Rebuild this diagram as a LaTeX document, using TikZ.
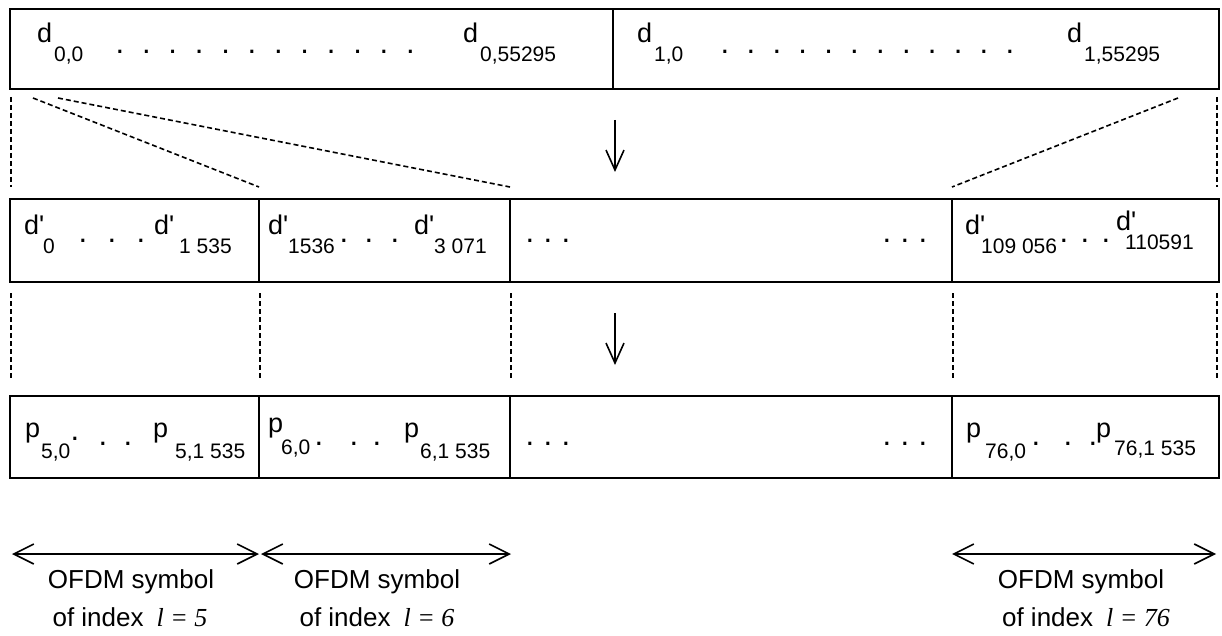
\documentclass[tikz,border=0pt]{standalone}
\usepackage{fontspec}
\setmainfont{Liberation Sans}
\newfontfamily\tnr{Liberation Serif}
\usetikzlibrary{arrows.meta,positioning}

\newcommand{\dq}{d\textquotesingle}

\begin{document}
\begin{tikzpicture}[x=1pt, y=-1pt,
    cell/.style={draw, line width=1.6pt, inner sep=0pt, outer sep=0pt, anchor=north west},
    mn/.style={anchor=base west, inner sep=0pt, font=\fontsize{27}{27}\selectfont},
    sb/.style={anchor=base west, inner sep=0pt, font=\fontsize{21}{21}\selectfont},
    dt/.style={anchor=base, inner sep=0pt, font=\fontsize{31}{31}\selectfont},
    capt/.style={anchor=base, inner sep=0pt, font=\fontsize{26}{26}\selectfont},
    guide/.style={line width=1.6pt, dash pattern=on 5pt off 3pt},
    dn/.style={-{Straight Barb[length=20pt, width=18pt]}, line width=1.6pt},
    span/.style={{Straight Barb[length=20pt, width=20pt]}-{Straight Barb[length=20pt, width=20pt]},
                 line width=1.6pt}
  ]
  \useasboundingbox (0,0) rectangle (1222,636);

  % the three rows of cells
  \node[cell, minimum width=603pt, minimum height=80pt] (r1a) at (10,9) {};
  \node[cell, minimum width=606pt, minimum height=80pt, right=0pt of r1a] (r1b) {};

  \node[cell, minimum width=249pt, minimum height=83pt] (r2a) at (10,199) {};
  \node[cell, minimum width=251pt, minimum height=83pt, right=0pt of r2a] (r2b) {};
  \node[cell, minimum width=442pt, minimum height=83pt, right=0pt of r2b] (r2c) {};
  \node[cell, minimum width=267pt, minimum height=83pt, right=0pt of r2c] (r2d) {};

  \node[cell, minimum width=249pt, minimum height=82pt] (r3a) at (10,396) {};
  \node[cell, minimum width=251pt, minimum height=82pt, right=0pt of r3a] (r3b) {};
  \node[cell, minimum width=442pt, minimum height=82pt, right=0pt of r3b] (r3c) {};
  \node[cell, minimum width=267pt, minimum height=82pt, right=0pt of r3c] (r3d) {};

  % row 1 labels
  \node[mn] (d00) at (37,43) {d};
  \node[sb] (d00s) at (54,62) {0,0};
  \foreach \k in {0,...,11}
    \node[dt] (p1a\k) at ({120+\k*26.4},54) {.};
  \node[mn] (d0n) at (463,43) {d};
  \node[sb] (d0ns) at (480,62) {0,55295};
  \node[mn] (d10) at (637,43) {d};
  \node[sb] (d10s) at (654,62) {1,0};
  \foreach \k in {0,...,11}
    \node[dt] (p1b\k) at ({725+\k*25.9},54) {.};
  \node[mn] (d1n) at (1067,43) {d};
  \node[sb] (d1ns) at (1084,62) {1,55295};

  % row 2 labels
  \node[mn] (e0) at (24,234) {\dq};
  \node[sb] (e0s) at (43,253) {0};
  \foreach \x in {83,112,141}
    \node[dt] (p2a\x) at (\x,243) {.};
  \node[mn] (e1) at (154,234) {\dq};
  \node[sb] (e1s) at (179,253) {1 535};
  \node[mn] (e2) at (268,234) {\dq};
  \node[sb] (e2s) at (288,253) {1536};
  \foreach \x in {344,369,395}
    \node[dt] (p2b\x) at (\x,243) {.};
  \node[mn] (e3) at (414,234) {\dq};
  \node[sb] (e3s) at (434,253) {3 071};
  \foreach \x in {530,548,566,887,905,923}
    \node[dt] (p2c\x) at (\x,243) {.};
  \node[mn] (e4) at (965,234) {\dq};
  \node[sb] (e4s) at (981,253) {109 056};
  \foreach \x in {1064,1085,1106}
    \node[dt] (p2d\x) at (\x,243) {.};
  \node[mn] (e5) at (1116,230) {\dq};
  \node[sb] (e5s) at (1125,249) {110591};

  % row 3 labels
  \node[mn] (q0) at (25,437) {p};
  \node[sb] (q0s) at (41,458) {5,0};
  \node[dt] (p3a0) at (75,440) {.};
  \foreach \x in {103,128}
    \node[dt] (p3a\x) at (\x,445) {.};
  \node[mn] (q1) at (153,437) {p};
  \node[sb] (q1s) at (175,458) {5,1 535};
  \node[mn] (q2) at (268,432) {p};
  \node[sb] (q2s) at (281,454) {6,0};
  \foreach \x in {319,354,377}
    \node[dt] (p3b\x) at (\x,445) {.};
  \node[mn] (q3) at (404,437) {p};
  \node[sb] (q3s) at (420,458) {6,1 535};
  \foreach \x in {530,548,566,887,905,923}
    \node[dt] (p3c\x) at (\x,445) {.};
  \node[mn] (q4) at (966,437) {p};
  \node[sb] (q4s) at (985,458) {76,0};
  \foreach \x in {1036,1068,1093}
    \node[dt] (p3d\x) at (\x,445) {.};
  \node[mn] (q5) at (1096,437) {p};
  \node[sb] (q5s) at (1114,455) {76,1 535};

  % mapping between row 1 and row 2
  \draw[guide, shorten <=8pt, shorten >=12pt]
    ([xshift=1pt]r1a.south west) -- ([xshift=1pt]r2a.north west);
  \draw[guide, shorten <=8pt, shorten >=12pt]
    ([xshift=-2pt]r1b.south east) -- ([xshift=-2pt]r2d.north east);
  \draw[guide] ([xshift=23pt, yshift=-9pt]r1a.south west) -- ([yshift=12pt]r2b.north west);
  \draw[guide] ([xshift=48pt, yshift=-9pt]r1a.south west) -- ([yshift=12pt]r2c.north west);
  \draw[guide] ([xshift=-41pt, yshift=-9pt]r1b.south east) -- ([yshift=12pt]r2d.north west);
  \draw[dn, shorten <=31pt, shorten >=27pt]
    ([xshift=2pt]r1a.south east) -- ([xshift=2pt]r1a.south east |- r2c.north);

  % mapping between row 2 and row 3
  \foreach \c in {a,b,c,d}
    \draw[guide, shorten <=11pt, shorten >=18pt]
      ([xshift=1pt]r2\c.south west) -- ([xshift=1pt]r3\c.north west);
  \draw[guide, shorten <=11pt, shorten >=18pt]
    ([xshift=-2pt]r2d.south east) -- ([xshift=-2pt]r3d.north east);
  \draw[dn, shorten <=31pt, shorten >=31pt]
    ([xshift=2pt]r1a.south east |- r2c.south) -- ([xshift=2pt]r1a.south east |- r3c.north);

  % OFDM symbol spans
  \draw[span] ([xshift=2pt, yshift=-76pt]r3a.south west) -- ([yshift=-76pt]r3a.south east);
  \draw[span] ([xshift=2pt, yshift=-76pt]r3b.south west) -- ([xshift=1pt, yshift=-76pt]r3b.south east);
  \draw[span] ([yshift=-76pt]r3d.south west) -- ([xshift=-3pt, yshift=-76pt]r3d.south east);

  \node[capt] (s5a) at (131,588) {OFDM symbol};
  \node[capt] (s5b) at (130,626) {of index\hspace{0.5em}{\tnr\itshape l = 5}};
  \node[capt] (s6a) at (377,588) {OFDM symbol};
  \node[capt] (s6b) at (377,626) {of index\hspace{0.5em}{\tnr\itshape l = 6}};
  \node[capt] (s76a) at (1081,588) {OFDM symbol};
  \node[capt] (s76b) at (1086,626) {of index\hspace{0.5em}{\tnr\itshape l = 76}};
\end{tikzpicture}
\end{document}
